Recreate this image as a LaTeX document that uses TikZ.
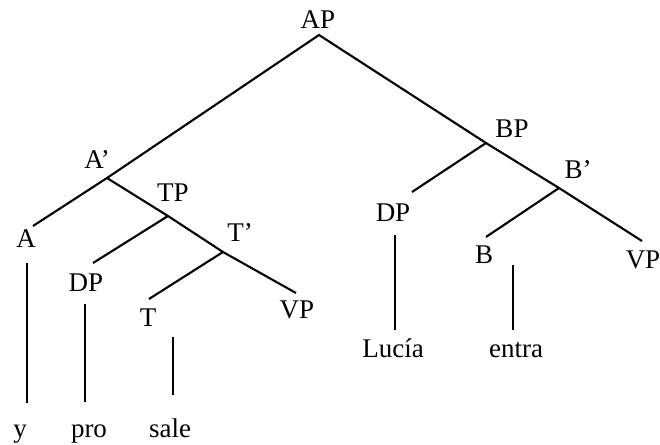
\documentclass[tikz,border=0pt]{standalone}
\usepackage{fontspec}
\setmainfont{Liberation Serif}
\begin{document}
\begin{tikzpicture}[x=1pt,y=-1pt,
  lab/.style={anchor=base,inner sep=0pt,font=\fontsize{27}{32}\selectfont},
  edge/.style={line width=2.1pt,black}]
\useasboundingbox (0,0) rectangle (660,444);
% labels
\node[lab] (AP) at (318,29) {AP};
\node[lab] (Abar) at (97,168) {A’};
\node[lab] (TP) at (173,201) {TP};
\node[lab] (Tbar) at (240,241) {T’};
\node[lab] (A) at (26,247) {A};
\node[lab] (DP1) at (86,291) {DP};
\node[lab] (T) at (148,326) {T};
\node[lab] (VP1) at (297,318) {VP};
\node[lab] (BP) at (512,137) {BP};
\node[lab] (Bbar) at (578,178) {B’};
\node[lab] (DP2) at (393,221) {DP};
\node[lab] (B) at (484,263) {B};
\node[lab] (VP2) at (643,268) {VP};
\node[lab] (Lucia) at (393,357) {Lucía};
\node[lab] (entra) at (516,357) {entra};
\node[lab] (y) at (20,437) {y};
\node[lab] (pro) at (89,437) {pro};
\node[lab] (sale) at (170,437) {sale};
% junctions and line ends
\coordinate (jAP) at (319,35);
\coordinate (jAbar) at (107,178);
\coordinate (jTP) at (168,216);
\coordinate (jTbar) at (223,252);
\coordinate (jBP) at (486,143);
\coordinate (jBbar) at (559,188);
\coordinate (eA) at (33,226);
\coordinate (eDP1) at (93,263);
\coordinate (eT) at (149,299);
\coordinate (eVP1) at (296,293);
\coordinate (eDP2) at (412,192);
\coordinate (eB) at (486,237);
\coordinate (eVP2) at (642,241);
\coordinate (vA1) at (27,263);    \coordinate (vA2) at (27,403);
\coordinate (vD1) at (85,304);    \coordinate (vD2) at (85,402);
\coordinate (vT1) at (173,337);   \coordinate (vT2) at (173,395);
\coordinate (vL1) at (395,235);   \coordinate (vL2) at (395,330);
\coordinate (vE1) at (513,265);   \coordinate (vE2) at (513,330);
% branches
\draw[edge] (eA) -- (jAbar) -- (jAP) -- (jBP) -- (jBbar) -- (eVP2);
\draw[edge] (jAbar) -- (jTP) -- (jTbar) -- (eVP1);
\draw[edge] (jTP) -- (eDP1);
\draw[edge] (jTbar) -- (eT);
\draw[edge] (jBP) -- (eDP2);
\draw[edge] (jBbar) -- (eB);
\draw[edge] (vA1) -- (vA2);
\draw[edge] (vD1) -- (vD2);
\draw[edge] (vT1) -- (vT2);
\draw[edge] (vL1) -- (vL2);
\draw[edge] (vE1) -- (vE2);
\end{tikzpicture}
\end{document}
